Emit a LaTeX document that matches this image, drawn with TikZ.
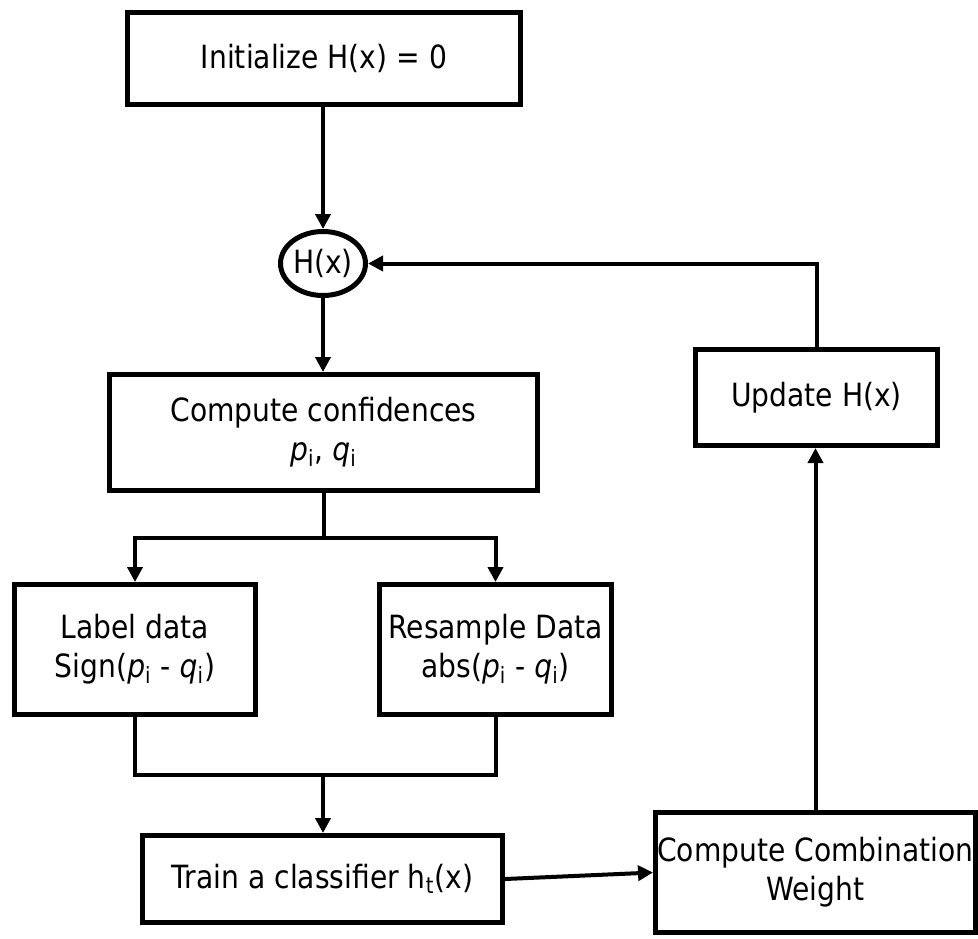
\documentclass[tikz,border=0pt]{standalone}
\usepackage{fontspec}
\setmainfont{DejaVu Sans}[FakeStretch=0.88]
\usetikzlibrary{arrows.meta,shapes.geometric}

\newcommand{\pq}[1]{\textit{#1}\textsubscript{i}}

\begin{document}
\begin{tikzpicture}[x=0.5pt,y=-0.5pt,
  box/.style={draw,line width=2.5pt,inner sep=0pt,align=center,
    font=\fontsize{16pt}{19.5pt}\selectfont},
  conn/.style={line width=2pt},
  arr/.style={conn,-{Triangle[length=7.5pt,width=7.5pt]}}]
\useasboundingbox (0,0) rectangle (978,938);

% process steps
\node[box,minimum width=196.5pt,minimum height=46pt] (init) at (324,58.5)
  {Initialize H(x) = 0};
\node[box,ellipse,minimum width=42.5pt,minimum height=32pt] (hx) at (323,263.5)
  {H(x)};
\node[box,minimum width=214pt,minimum height=58pt] (conf) at (323.5,432.5)
  {Compute confidences\\\pq{p}, \pq{q}};
\node[box,minimum width=120.5pt,minimum height=65pt] (label) at (135,649.5)
  {Label data\\Sign(\pq{p} - \pq{q})};
\node[box,minimum width=116pt,minimum height=65pt] (resample) at (495.5,649.5)
  {Resample Data\\abs(\pq{p} - \pq{q})};
\node[box,minimum width=180pt,minimum height=43.5pt] (train) at (322.5,879)
  {Train a classifier h\textsubscript{t}(x)};
\node[box,minimum width=160pt,minimum height=60pt] (cc) at (815.5,872.5)
  {Compute Combination\\Weight};
\node[box,minimum width=121pt,minimum height=48pt] (update) at (816.5,397.5)
  {Update H(x)};

% branch and join points
\coordinate (split) at (323.5,538);
\coordinate (join) at (323,775);

% connectors
\draw[arr] (init.south -| hx) -- (hx.north);
\draw[arr] (hx.south) -- (hx.south |- conf.north);
\draw[conn] (conf.south) -- (split);
\draw[arr] (split) -| (label.north);
\draw[arr] (split) -| (resample.north);
\draw[conn] (label.south) |- (join) -| (resample.south);
\draw[arr] (join) -- (join |- train.north);
\draw[arr] (train.east) -- (cc.west);
\draw[arr] (cc.north) -- (cc.north |- update.south);
\draw[arr] (update.north) |- (hx.east);
\end{tikzpicture}
\end{document}
